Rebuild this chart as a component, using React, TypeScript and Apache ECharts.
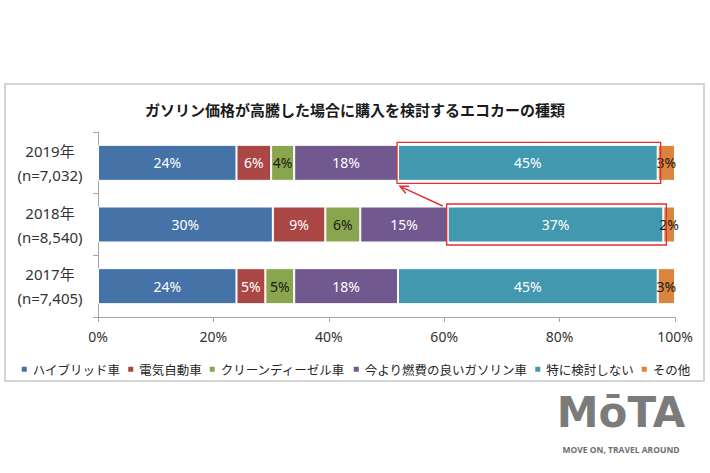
import React, { useEffect, useRef } from "react";
import * as echarts from "echarts";

const titleText = "ガソリン価格が高騰した場合に購入を検討するエコカーの種類";
const years = ["2019年", "2018年", "2017年"];
const samples = ["(n=7,032)", "(n=8,540)", "(n=7,405)"];
const seriesNames = [
  "ハイブリッド車",
  "電気自動車",
  "クリーンディーゼル車",
  "今より燃費の良いガソリン車",
  "特に検討しない",
  "その他",
];
const hybrid = [24, 30, 24];
const electric = [6, 9, 5];
const cleanDiesel = [4, 6, 5];
const efficientGasoline = [18, 15, 18];
const noneConsidered = [45, 37, 45];
const other = [3, 2, 3];
const xTicks = [0, 20, 40, 60, 80, 100];
const highlightedRows = [0, 1];

const colors = ["#4572A7", "#AA4643", "#89A54E", "#71588F", "#4198AF", "#DB843D"];
const labelColors = ["#ffffff", "#ffffff", "#1a1a1a", "#ffffff", "#ffffff", "#1a1a1a"];
const FONT = "'Noto Sans', 'Noto Sans CJK JP', sans-serif";
const JP = "'Noto Sans CJK JP', sans-serif";

export default function App() {
  const ref = useRef<HTMLDivElement>(null);
  useEffect(() => {
    document.body.style.margin = "0";
    if (!ref.current) return;
    const chart = echarts.init(ref.current, null, { renderer: "svg" });
    const raw = [hybrid, electric, cleanDiesel, efficientGasoline, noneConsidered, other];
    const categories = years.map((y, i) => `${y}\n${samples[i]}`);
    const totals = categories.map((_, i) => raw.reduce((s, arr) => s + arr[i], 0));
    const norm = raw.map((arr) => arr.map((v, i) => (v / totals[i]) * 100));

    chart.setOption({
      animation: false,
      backgroundColor: "#ffffff",
      title: {
        text: titleText,
        left: "center",
        top: 97,
        textStyle: { fontFamily: JP, fontSize: 15, fontWeight: "bold", color: "#1a1a1a" },
      },
      legend: {
        left: "center",
        top: 358,
        icon: "rect",
        itemWidth: 7,
        itemHeight: 7,
        itemGap: 6,
        textStyle: { fontFamily: JP, fontSize: 12.5, color: "#262626" },
        data: seriesNames,
      },
      grid: { left: 98, right: 35, top: 132, bottom: 156, containLabel: false },
      xAxis: {
        type: "value",
        min: xTicks[0],
        max: xTicks[xTicks.length - 1],
        interval: xTicks[1] - xTicks[0],
        axisLine: { show: true, lineStyle: { color: "#a6a6a6", width: 1 } },
        axisTick: { show: true, length: 5, lineStyle: { color: "#a6a6a6" } },
        splitLine: { show: false },
        axisLabel: {
          formatter: "{value}%",
          fontFamily: FONT,
          fontSize: 14,
          color: "#333333",
          margin: 12,
        },
      },
      yAxis: {
        type: "category",
        inverse: true,
        data: categories,
        axisLine: { show: true, lineStyle: { color: "#a6a6a6", width: 1 } },
        axisTick: { show: true, length: 5, lineStyle: { color: "#a6a6a6" } },
        axisLabel: {
          align: "center",
          margin: 48,
          fontFamily: FONT,
          fontSize: 15,
          lineHeight: 24,
          color: "#333333",
        },
      },
      series: seriesNames.map((name, si) => ({
        name,
        type: "bar",
        stack: "total",
        barWidth: 36,
        itemStyle: { color: colors[si], borderColor: "#ffffff", borderWidth: 1 },
        label: {
          show: true,
          position: "inside",
          fontFamily: FONT,
          fontSize: 14,
          color: labelColors[si],
          formatter: (p: any) => `${raw[si][p.dataIndex]}%`,
        },
        data: norm[si],
      })),
    });

    // Annotation boxes around the "特に検討しない" segment, located via the chart's scales
    const tealIdx = 4;
    const boxes = highlightedRows.map((row) => {
      let start = 0;
      for (let s = 0; s < tealIdx; s++) start += norm[s][row];
      const end = start + norm[tealIdx][row];
      const p0 = chart.convertToPixel({ gridIndex: 0 }, [start, row]) as number[];
      const p1 = chart.convertToPixel({ gridIndex: 0 }, [end, row]) as number[];
      return { x0: p0[0] - 1, x1: p1[0] + 3, yc: p0[1], half: 20.5 };
    });
    const red = "#e2302f";
    const graphics: any[] = [
      {
        type: "rect",
        id: "frame",
        shape: { x: 5, y: 84, width: 699, height: 297 },
        style: { fill: "none", stroke: "#d4d4d4", lineWidth: 2 },
        z: 0,
      },
    ];
    boxes.forEach((b, i) => {
      graphics.push({
        type: "rect",
        id: "box" + i,
        shape: { x: b.x0, y: b.yc - b.half, width: b.x1 - b.x0, height: b.half * 2 },
        style: { fill: "none", stroke: red, lineWidth: 1.3 },
        z: 100,
      });
    });
    if (boxes.length === 2) {
      const a = boxes[1];
      const b = boxes[0];
      const sx = a.x0 - 4;
      const sy = a.yc - a.half + 2;
      const ex = b.x0 + 3;
      const ey = b.yc + b.half + 3;
      const ang = Math.atan2(ey - sy, ex - sx);
      const L = 9;
      const spread = 0.45;
      graphics.push({
        type: "line",
        id: "arrowLine",
        shape: { x1: sx, y1: sy, x2: ex, y2: ey },
        style: { stroke: red, lineWidth: 1.5 },
        z: 100,
      });
      graphics.push({
        type: "polyline",
        id: "arrowHead",
        shape: {
          points: [
            [ex - L * Math.cos(ang - spread), ey - L * Math.sin(ang - spread)],
            [ex, ey],
            [ex - L * Math.cos(ang + spread), ey - L * Math.sin(ang + spread)],
          ],
        },
        style: { stroke: red, lineWidth: 1.5, fill: "none" },
        z: 100,
      });
    }
    graphics.push({
      type: "text",
      id: "logo",
      x: 621,
      y: 412,
      style: {
        text: "MōTA",
        fontFamily: "'DejaVu Sans', sans-serif",
        fontWeight: "bold",
        fontSize: 42,
        fill: "#7b7b7b",
        align: "center",
        verticalAlign: "middle",
      },
    });
    graphics.push({
      type: "text",
      id: "tagline",
      x: 621,
      y: 449,
      style: {
        text: "MOVE ON, TRAVEL AROUND",
        fontFamily: "'Open Sans', sans-serif",
        fontWeight: "bold",
        fontSize: 8.5,
        fill: "#6e6e6e",
        align: "center",
        verticalAlign: "middle",
      },
    });
    chart.setOption({ graphic: graphics });

    return () => chart.dispose();
  }, []);
  return <div ref={ref} style={{ width: 710, height: 473 }} />;
}
